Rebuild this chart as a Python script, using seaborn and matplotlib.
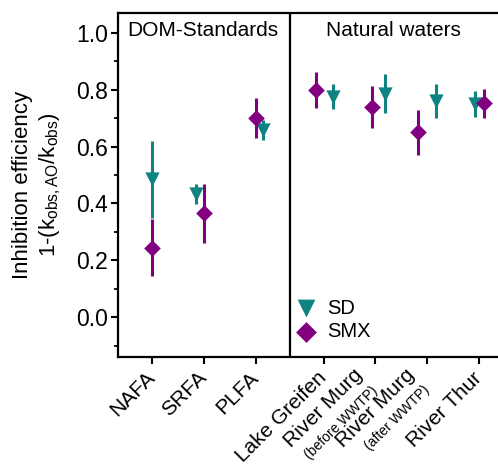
import numpy as np
import pandas as pd
import matplotlib
matplotlib.use("Agg")
import matplotlib.pyplot as plt
import seaborn as sns
from matplotlib.ticker import MultipleLocator, FixedLocator

# ---------------- data ----------------
categories = ["NAFA", "SRFA", "PLFA", "Lake Greifen", "River Murg", "River Murg", "River Thur"]
sublabels = ["", "", "", "", "(before WWTP)", "(after WWTP)", ""]
groups = ["DOM", "DOM", "DOM", "NAT", "NAT", "NAT", "NAT"]
group_labels = ["DOM-Standards", "Natural waters"]

sd_values = [0.485, 0.433, 0.66, 0.776, 0.787, 0.762, 0.75]
sd_err = [0.135, 0.035, 0.035, 0.044, 0.07, 0.06, 0.045]
smx_values = [0.245, 0.365, 0.70, 0.80, 0.74, 0.65, 0.752]
smx_err = [0.10, 0.103, 0.07, 0.063, 0.073, 0.08, 0.05]

# manual horizontal dodge used in the original figure
sd_offset = [0.0, -0.15, 0.15, 0.19, 0.19, 0.17, -0.08]
smx_offset = [0.0, 0.0, 0.0, -0.14, -0.06, -0.17, 0.10]

yticks = [0.0, 0.2, 0.4, 0.6, 0.8, 1.0]

# ---------------- style ----------------
sns.set_style("ticks")
plt.rcParams["font.family"] = ["Liberation Sans", "DejaVu Sans"]
plt.rcParams["mathtext.fontset"] = "custom"
plt.rcParams["mathtext.rm"] = "Liberation Sans"
plt.rcParams["mathtext.it"] = "Liberation Sans:italic"
plt.rcParams["text.color"] = "black"
plt.rcParams["axes.labelcolor"] = "black"

TEAL = "#0f8282"
PURPLE = "#800080"
GAP = 0.31

pos = np.array([i + (GAP if g == "NAT" else 0.0) for i, g in enumerate(groups)])

rows = []
for i in range(len(categories)):
    rows.append(dict(cmp="SD", x=pos[i] + sd_offset[i], y=sd_values[i], e=sd_err[i]))
for i in range(len(categories)):
    rows.append(dict(cmp="SMX", x=pos[i] + smx_offset[i], y=smx_values[i], e=smx_err[i]))
df = pd.DataFrame(rows)

fig = plt.figure(figsize=(4.98, 4.69), dpi=100)
ax = fig.add_axes([0.237, 0.239, 0.793, 0.733])

for cmp, col, mk, s in [("SD", TEAL, "v", 105), ("SMX", PURPLE, "D", 72)]:
    d = df[df.cmp == cmp]
    ax.errorbar(d.x, d.y, yerr=d.e, fmt="none", ecolor=col, elinewidth=2.2, capsize=0, zorder=2)
    sns.scatterplot(data=d, x="x", y="y", marker=mk, color=col, s=s, linewidth=0,
                    ax=ax, label=cmp, zorder=3)

ax.set_xlim(-0.66, pos[-1] + 0.66)
ax.set_ylim(-0.14, 1.07)

ax.axvline((pos[2] + pos[3]) / 2, color="black", lw=1.6, zorder=1)

ax.text((pos[0] + pos[2]) / 2 - 0.02, 1.01, group_labels[0], ha="center", va="center",
        fontsize=15, color="black")
ax.text((pos[3] + pos[6]) / 2 - 0.15, 1.01, group_labels[1], ha="center", va="center",
        fontsize=15, color="black")

ax.yaxis.set_major_locator(FixedLocator(yticks))
ax.yaxis.set_minor_locator(MultipleLocator(0.1))
ax.set_yticklabels([f"{v:.1f}" for v in yticks], fontsize=16.5)
ax.set_xticks(pos)
# two-line labels are drawn separately below
ax.set_xticklabels([c if not sublabels[i] else "" for i, c in enumerate(categories)],
                   rotation=45, ha="right", va="center", rotation_mode="anchor", fontsize=15)
ax.xaxis.set_minor_locator(FixedLocator([]))

ax.tick_params(axis="both", which="major", direction="out", length=5, width=1.5, pad=2, colors="black")
ax.tick_params(axis="y", which="minor", direction="out", length=3, width=1.3, colors="black")
ax.tick_params(axis="x", which="major", pad=8)

for sp in ax.spines.values():
    sp.set_linewidth(1.6)
    sp.set_color("black")
ax.spines["right"].set_visible(False)

ax.set_xlabel("")
ax.set_ylabel("Inhibition efficiency\n1-(k$_{\\mathrm{obs,AO}}$/k$_{\\mathrm{obs}}$)", fontsize=16,
              linespacing=1.25, labelpad=10, color="black")

for i, sub in enumerate(sublabels):
    if sub:
        ax.annotate(categories[i], xy=(pos[i], 0), xycoords=("data", "axes fraction"),
                    xytext=(-11, -11), textcoords="offset points", rotation=45,
                    ha="right", va="center", rotation_mode="anchor", fontsize=15, color="black")
        ax.annotate(sub, xy=(pos[i], 0), xycoords=("data", "axes fraction"),
                    xytext=(0, -22.5), textcoords="offset points", rotation=45,
                    ha="right", va="center", rotation_mode="anchor", fontsize=10, color="black")

leg = ax.legend(loc="lower left", bbox_to_anchor=(0.385, 0.0), frameon=False, fontsize=14.5,
                handletextpad=0.05, labelspacing=0.2, markerscale=1.25, borderpad=0.3)
for t in leg.get_texts():
    t.set_color("black")

fig.savefig("out.png", dpi=100)
